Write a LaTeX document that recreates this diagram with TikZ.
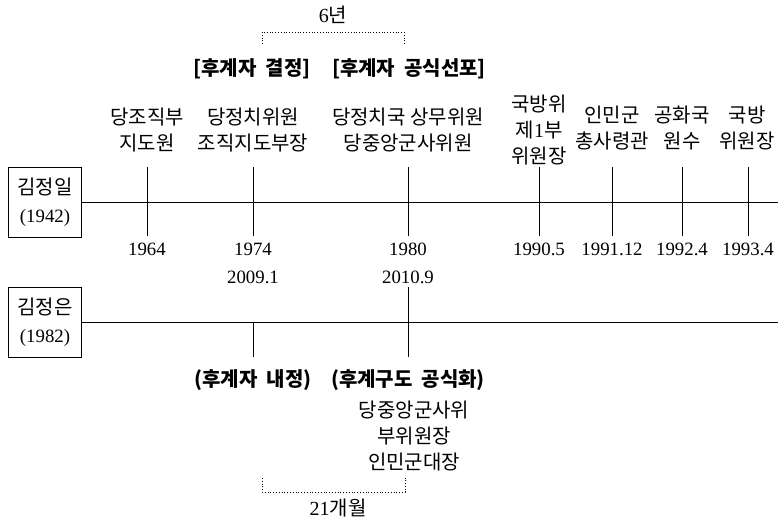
\documentclass[tikz,border=0pt]{standalone}
\usepackage{fontspec}
\setmainfont{Liberation Serif}
\newfontfamily\kr{Noto Sans CJK KR}
\begin{document}
\begin{tikzpicture}[x=0.5pt,y=-0.5pt,
    txt/.style={font=\fontsize{10}{13}\selectfont, align=center, inner sep=0pt},
    yr/.style={font=\fontsize{9.4}{13}\selectfont, inner sep=0pt},
    hdr/.style={font=\fontsize{10}{13}\selectfont\kr\bfseries, inner sep=0pt},
    who/.style={draw, line width=0.5pt, minimum width=36.5pt, minimum height=35pt,
        align=center, inner sep=0pt, font=\fontsize{10}{14}\selectfont},
    axis/.style={line width=0.5pt},
    span/.style={densely dotted, line width=0.4pt}]
        \useasboundingbox (0,0) rectangle (778,520);
        % persons
        \node[who] (jil) at (45,202) {{\kr 김정일}\\{\fontsize{9.4}{14}\selectfont(1942)}};
        \node[who] (jun) at (45,322) {{\kr 김정은}\\{\fontsize{9.4}{14}\selectfont(1982)}};
        \coordinate (jilEnd) at (778,202);
        \coordinate (junEnd) at (778,322);
        \draw[axis] (jil.east) -- (jilEnd);
        \draw[axis] (jun.east) -- (junEnd);
        % ticks
        \coordinate (A1) at (147,167);  \coordinate (A2) at (147,236);
        \coordinate (B1) at (253,167);  \coordinate (B2) at (253,236);
        \coordinate (C1) at (408,167);  \coordinate (C2) at (408,236);
        \coordinate (D1) at (539,167);  \coordinate (D2) at (539,236);
        \coordinate (E1) at (612,167);  \coordinate (E2) at (612,236);
        \coordinate (F1) at (682,167);  \coordinate (F2) at (682,236);
        \coordinate (G1) at (748,167);  \coordinate (G2) at (748,236);
        \coordinate (H1) at (253,322);  \coordinate (H2) at (253,357);
        \coordinate (K1) at (408,287);  \coordinate (K2) at (408,357);
        \draw[axis] (A1) -- (A2);
        \draw[axis] (B1) -- (B2);
        \draw[axis] (C1) -- (C2);
        \draw[axis] (D1) -- (D2);
        \draw[axis] (E1) -- (E2);
        \draw[axis] (F1) -- (F2);
        \draw[axis] (G1) -- (G2);
        \draw[axis] (H1) -- (H2);
        \draw[axis] (K1) -- (K2);
        % posts of Kim Jong-il
        \node[txt] (p64) at (147,130) {\kr 당조직부\\\kr 지도원};
        \node[txt] (p74) at (253,130) {\kr 당정치위원\\\kr 조직지도부장};
        \node[txt] (p80) at (408,130) {\kr 당정치국 상무위원\\\kr 당중앙군사위원};
        \node[txt] (p90) at (539,130) {\kr 국방위\\{\kr 제}1{\kr 부}\\\kr 위원장};
        \node[txt] (p91) at (612,128) {\kr 인민군\\\kr 총사령관};
        \node[txt] (p92) at (682,128) {\kr 공화국\\\kr 원수};
        \node[txt] (p93) at (747,128) {\kr 국방\\\kr 위원장};
        % years
        \node[yr] (y64) at (147,249) {1964};
        \node[yr] (y74) at (253,249) {1974};
        \node[yr] (y80) at (408,249) {1980};
        \node[yr] (y90) at (539,249) {1990.5};
        \node[yr] (y91) at (612,249) {1991.12};
        \node[yr] (y92) at (682,249) {1992.4};
        \node[yr] (y93) at (748,249) {1993.4};
        \node[yr] (y09) at (253,277) {2009.1};
        \node[yr] (y10) at (408,277) {2010.9};
        % succession
        \node[hdr] (decide) at (252,69) {[후계자\ \ 결정]};
        \node[hdr] (announce) at (409,69) {[후계자\ \ 공식선포]};
        \node[hdr] (inner) at (253,380) {(후계자\ \ 내정)};
        \node[hdr] (official) at (408,380) {(후계구도\ \ 공식화)};
        \node[txt] (p10) at (414,436) {\kr 당중앙군사위\\\kr 부위원장\\\kr 인민군대장};
        % spans
        \coordinate (s1) at (262,44); \coordinate (s2) at (404,44);
        \draw[span] (s1) -- ++(0,-12) -| (s2);
        \node[txt] (six) at (333,15) {6{\kr 년}};
        \coordinate (m1) at (262,478); \coordinate (m2) at (405,478);
        \draw[span] (m1) -- ++(0,14) -| (m2);
        \node[txt] (months) at (338,508) {21{\kr 개월}};
\end{tikzpicture}
\end{document}
